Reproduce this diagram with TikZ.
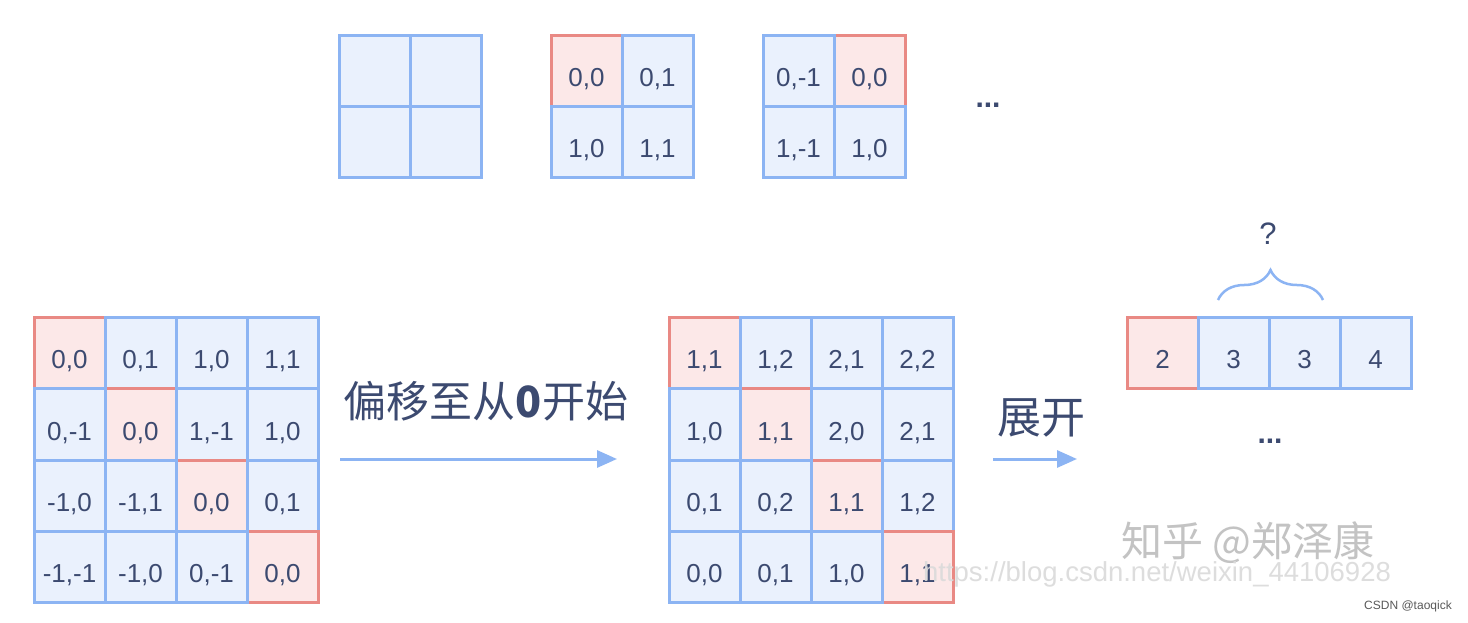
\documentclass[tikz,border=0pt]{standalone}
\usepackage{fontspec}
\setmainfont{Liberation Sans}
\newfontfamily\cjk{Noto Sans CJK SC}
\usetikzlibrary{arrows.meta,decorations.pathreplacing}
\definecolor{bln}{RGB}{140,180,243}
\definecolor{blf}{RGB}{234,241,253}
\definecolor{rdn}{RGB}{233,137,132}
\definecolor{rdf}{RGB}{252,232,232}
\definecolor{txt}{RGB}{60,74,112}
\definecolor{wm}{RGB}{195,195,195}
\definecolor{wm2}{RGB}{218,218,218}
\begin{document}
\begin{tikzpicture}[x=1pt,y=1pt,
  cellb/.style={draw=bln, fill=blf, line width=3pt, minimum size=71pt, inner sep=0pt, text=txt, font=\fontsize{26}{30}\selectfont, text height=31pt, text depth=0pt},
  cellr/.style={cellb, draw=rdn, fill=rdf},
  arr/.style={draw=bln, line width=3pt, -{Triangle[length=20pt,width=17pt]}},
  lbl/.style={text=txt, inner sep=0pt}]
\fill[white] (0,0) rectangle (1468,622);
\useasboundingbox (0,0) rectangle (1468,622);

% top grid 1 (empty)
\node[cellb] (t1a) at (374.5,550.5) {};
\node[cellb] (t1b) at (445.5,550.5) {};
\node[cellb] (t1c) at (374.5,479.5) {};
\node[cellb] (t1d) at (445.5,479.5) {};
% top grid 2
\node[cellr] (t2a) at (586.5,550.5) {0,0};
\node[cellb] (t2b) at (657.5,550.5) {0,1};
\node[cellb] (t2c) at (586.5,479.5) {1,0};
\node[cellb] (t2d) at (657.5,479.5) {1,1};
% top grid 3
\node[cellr] (t3b) at (869.5,550.5) {0,0};
\node[cellb] (t3a) at (798.5,550.5) {0,-1};
\node[cellb] (t3c) at (798.5,479.5) {1,-1};
\node[cellb] (t3d) at (869.5,479.5) {1,0};
\node[lbl, font=\fontsize{30}{30}\selectfont\bfseries] (tdots) at (988,517) {...};

% left 4x4 grid
\node[cellr] (L00) at (69.5,268.5) {0,0};
\node[cellb] (L01) at (140.5,268.5) {0,1};
\node[cellb] (L02) at (211.5,268.5) {1,0};
\node[cellb] (L03) at (282.5,268.5) {1,1};
\node[cellr] (L11) at (140.5,197.5) {0,0};
\node[cellb] (L10) at (69.5,197.5) {0,-1};
\node[cellb] (L12) at (211.5,197.5) {1,-1};
\node[cellb] (L13) at (282.5,197.5) {1,0};
\node[cellr] (L22) at (211.5,126.5) {0,0};
\node[cellb] (L20) at (69.5,126.5) {-1,0};
\node[cellb] (L21) at (140.5,126.5) {-1,1};
\node[cellb] (L23) at (282.5,126.5) {0,1};
\node[cellr] (L33) at (282.5,55.5) {0,0};
\node[cellb] (L30) at (69.5,55.5) {-1,-1};
\node[cellb] (L31) at (140.5,55.5) {-1,0};
\node[cellb] (L32) at (211.5,55.5) {0,-1};

% right 4x4 grid
\node[cellr] (R00) at (704.5,268.5) {1,1};
\node[cellb] (R01) at (775.5,268.5) {1,2};
\node[cellb] (R02) at (846.5,268.5) {2,1};
\node[cellb] (R03) at (917.5,268.5) {2,2};
\node[cellr] (R11) at (775.5,197.5) {1,1};
\node[cellb] (R10) at (704.5,197.5) {1,0};
\node[cellb] (R12) at (846.5,197.5) {2,0};
\node[cellb] (R13) at (917.5,197.5) {2,1};
\node[cellr] (R22) at (846.5,126.5) {1,1};
\node[cellb] (R20) at (704.5,126.5) {0,1};
\node[cellb] (R21) at (775.5,126.5) {0,2};
\node[cellb] (R23) at (917.5,126.5) {1,2};
\node[cellr] (R33) at (917.5,55.5) {1,1};
\node[cellb] (R30) at (704.5,55.5) {0,0};
\node[cellb] (R31) at (775.5,55.5) {0,1};
\node[cellb] (R32) at (846.5,55.5) {1,0};

% vector
\node[cellr] (V0) at (1162.5,268.5) {2};
\node[cellb] (V1) at (1233.5,268.5) {3};
\node[cellb] (V2) at (1304.5,268.5) {3};
\node[cellb] (V3) at (1375.5,268.5) {4};
\node[lbl, font=\fontsize{30}{30}\selectfont\bfseries] (vdots) at (1270,181) {...};

% brace and question mark
\coordinate (bl) at (1218,322);
\coordinate (br) at (1323,322);
\draw[bln, line width=2.5pt, decorate, decoration={brace, amplitude=30pt}] (bl) -- (br);
\node[lbl, font=\fontsize{31}{31}\selectfont] (q) at (1268,388) {?};

% arrows and labels
\coordinate (a1s) at (340,163);
\coordinate (a1e) at (617,163);
\draw[arr] (a1s) -- (a1e);
\node[lbl, font=\cjk\fontsize{43}{43}\selectfont] (t1) at (486,221) {偏移至从\textbf{0}开始};
\coordinate (a2s) at (993,163);
\coordinate (a2e) at (1077,163);
\draw[arr] (a2s) -- (a2e);
\node[lbl, font=\cjk\fontsize{44}{44}\selectfont] (t2) at (1041,204) {展开};

% watermarks
\node[text=wm, inner sep=0pt, font=\cjk\fontsize{41}{41}\selectfont] (wz) at (1248,79) {知乎 @郑泽康};
\node[text=wm2, inner sep=0pt, font=\fontsize{27.5}{27.5}\selectfont, opacity=0.9] (wu) at (1157,48) {https://blog.csdn.net/weixin\_44106928};
\node[text=black!65, inner sep=0pt, font=\fontsize{12}{12}\selectfont] (wc) at (1408,16) {CSDN @taoqick};
\end{tikzpicture}
\end{document}
